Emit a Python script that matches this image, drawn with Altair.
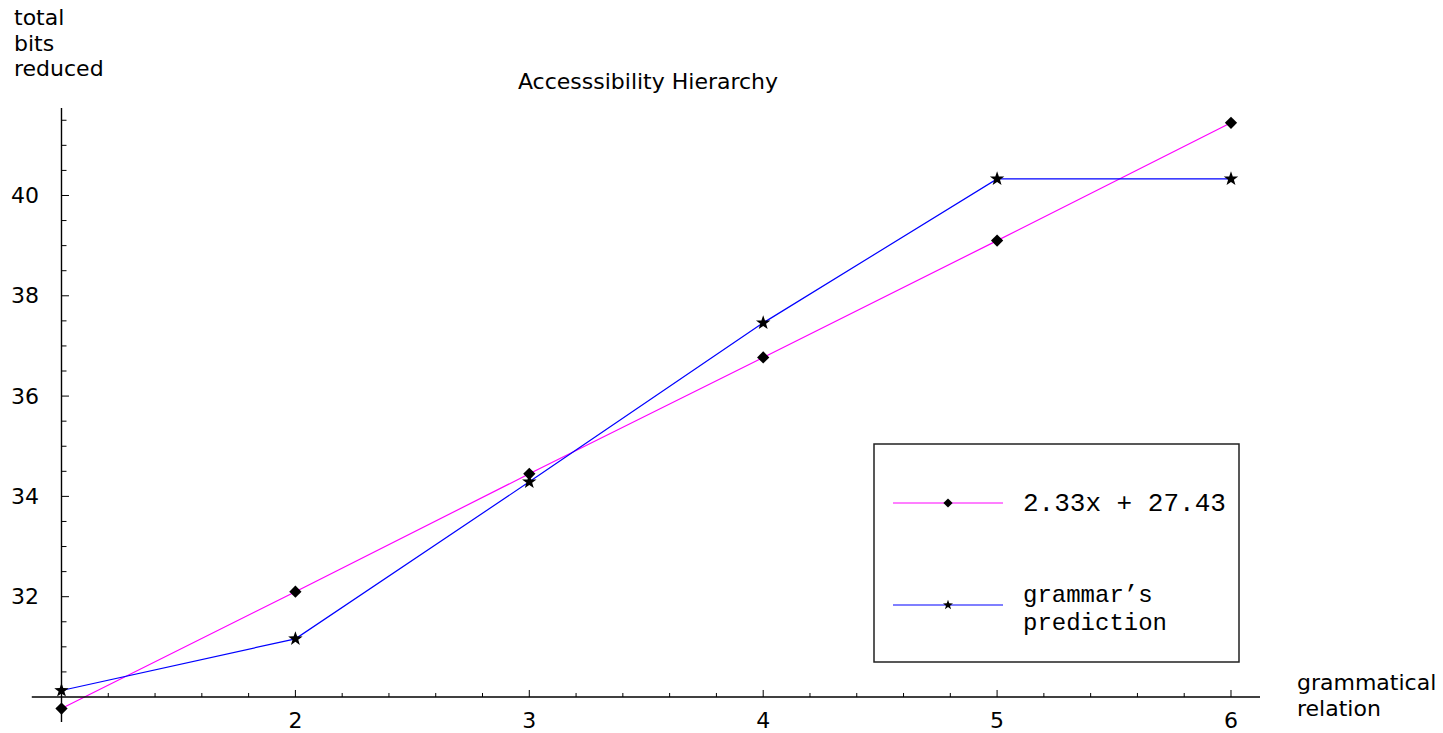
import altair as alt
import pandas as pd

# ---- data ----
relation = [1, 2, 3, 4, 5, 6]
fit_bits = [29.77, 32.10, 34.45, 36.77, 39.10, 41.45]
pred_bits = [30.13, 31.16, 34.29, 37.46, 40.33, 40.33]
series_names = ["2.33x + 27.43", "grammar\u2019s prediction"]

x_major = [2, 3, 4, 5, 6]
y_major = [32, 34, 36, 38, 40]
x_minor = [round(1 + 0.2 * i, 1) for i in range(1, 26) if (i % 5) != 0]
y_minor = [round(30 + 0.5 * i, 1) for i in range(1, 24) if (i % 4) != 0]

# ---- geometry (plot area = whole canvas) ----
W, H = 1443, 733
X_MIN, X_MAX = 0.7371, 6.9064
Y_MIN, Y_MAX = 29.282, 43.898
xs = alt.Scale(domain=[X_MIN, X_MAX], nice=False, zero=False)
ys = alt.Scale(domain=[Y_MIN, Y_MAX], nice=False, zero=False)

PINK = "#ff00ff"
BLUE = "#0000ff"
STAR = ("M0,-1L0.2351,-0.3236L0.9511,-0.309L0.3804,0.1236L0.5878,0.809"
        "L0,0.4L-0.5878,0.809L-0.3804,0.1236L-0.9511,-0.309L-0.2351,-0.3236Z")
SANS = "DejaVu Sans"
MONO = "Liberation Mono"

df = pd.DataFrame({
    "x": relation * 2,
    "bits": fit_bits + pred_bits,
    "series": [series_names[0]] * 6 + [series_names[1]] * 6,
})

X = lambda f: alt.X(f, scale=xs, axis=None)
Y = lambda f: alt.Y(f, scale=ys, axis=None)

color = alt.Color("series:N", scale=alt.Scale(domain=series_names, range=[PINK, BLUE]), legend=None)
shape = alt.Shape("series:N", scale=alt.Scale(domain=series_names, range=["diamond", STAR]), legend=None)
size = alt.Size("series:N", scale=alt.Scale(domain=series_names, range=[150, 230]), legend=None)

lines = alt.Chart(df).mark_line(strokeWidth=1.2).encode(
    x=X("x:Q"), y=Y("bits:Q"), color=color, detail="series:N")
points = alt.Chart(df).mark_point(filled=True, color="black", opacity=1).encode(
    x=X("x:Q"), y=Y("bits:Q"), shape=shape, size=size)

# ---- axes drawn through the scales ----
base = alt.Chart(pd.DataFrame({"d": [0]}))
x_axis = base.mark_rule(color="black", strokeWidth=1.4).encode(
    x=alt.X(datum=0.873, scale=xs, axis=None), x2=alt.X2(datum=6.124),
    y=alt.Y(datum=30, scale=ys, axis=None))
y_axis = base.mark_rule(color="black", strokeWidth=1.4).encode(
    y=alt.Y(datum=29.50, scale=ys, axis=None), y2=alt.Y2(datum=41.745),
    x=alt.X(datum=1, scale=xs, axis=None))

xmaj_df = pd.DataFrame({"t": x_major, "lab": [str(v) for v in x_major]})
ymaj_df = pd.DataFrame({"t": y_major, "lab": [str(v) for v in y_major]})
xmin_df = pd.DataFrame({"t": x_minor})
ymin_df = pd.DataFrame({"t": y_minor})

x_ticks_major = alt.Chart(xmaj_df).mark_rule(color="black", strokeWidth=1, y2Offset=-7).encode(
    x=X("t:Q"), y=alt.Y(datum=30, scale=ys, axis=None), y2=alt.Y2(datum=30))
x_ticks_minor = alt.Chart(xmin_df).mark_rule(color="black", strokeWidth=1, y2Offset=-4).encode(
    x=X("t:Q"), y=alt.Y(datum=30, scale=ys, axis=None), y2=alt.Y2(datum=30))
y_ticks_major = alt.Chart(ymaj_df).mark_rule(color="black", strokeWidth=1, x2Offset=7.5).encode(
    y=Y("t:Q"), x=alt.X(datum=1, scale=xs, axis=None), x2=alt.X2(datum=1))
y_ticks_minor = alt.Chart(ymin_df).mark_rule(color="black", strokeWidth=1, x2Offset=5).encode(
    y=Y("t:Q"), x=alt.X(datum=1, scale=xs, axis=None), x2=alt.X2(datum=1))

x_labels = alt.Chart(xmaj_df).mark_text(font=SANS, fontSize=22, align="center",
                                         baseline="alphabetic", dy=31, color="black").encode(
    x=X("t:Q"), y=alt.Y(datum=30, scale=ys, axis=None), text="lab:N")
y_labels = alt.Chart(ymaj_df).mark_text(font=SANS, fontSize=22, align="right",
                                         baseline="alphabetic", dx=-22.5, dy=7.5, color="black").encode(
    y=Y("t:Q"), x=alt.X(datum=1, scale=xs, axis=None), text="lab:N")

def label(txt, x, y, font=SANS, size=22, align="left", line_height=None):
    kw = dict(text=txt, font=font, fontSize=size, align=align, baseline="alphabetic", color="black")
    if line_height is not None:
        kw["lineHeight"] = line_height
    return base.mark_text(**kw).encode(x=alt.value(x), y=alt.value(y))

title = label("Accesssibility Hierarchy", 648, 89, align="center")
y_title = label(["total", "bits", "reduced"], 14, 25, line_height=25.5)
x_title = label(["grammatical", "relation"], 1297, 690, line_height=25.5)

# ---- legend box ----
legend_box = base.mark_rect(fill="white", stroke="#222222", strokeWidth=1.5).encode(
    x=alt.value(874), x2=alt.value(1239), y=alt.value(444), y2=alt.value(662))
leg_line1 = base.mark_rule(color=PINK, strokeWidth=1.1).encode(
    x=alt.value(893), x2=alt.value(1003), y=alt.value(503))
leg_line2 = base.mark_rule(color=BLUE, strokeWidth=1.1).encode(
    x=alt.value(893), x2=alt.value(1003), y=alt.value(605))
leg_sym1 = base.mark_point(shape="diamond", filled=True, color="black", size=85, opacity=1).encode(
    x=alt.value(948), y=alt.value(503))
leg_sym2 = base.mark_point(shape=STAR, filled=True, color="black", size=110, opacity=1).encode(
    x=alt.value(948), y=alt.value(605))
leg_txt1 = label(series_names[0], 1023, 511, font=MONO, size=26)
leg_txt2 = label(["grammar\u2019s", "prediction"], 1023, 602, font=MONO, size=24, line_height=28)

chart = alt.layer(
    lines, points,
    x_axis, y_axis, x_ticks_major, x_ticks_minor, y_ticks_major, y_ticks_minor,
    x_labels, y_labels, title, y_title, x_title,
    legend_box, leg_line1, leg_line2, leg_sym1, leg_sym2, leg_txt1, leg_txt2,
).properties(
    width=W, height=H, padding=0, autosize=alt.AutoSizeParams(type="none"),
    background="white",
).configure_view(stroke=None)

chart.save("out.html", embed_options={"renderer": "svg", "actions": False})
